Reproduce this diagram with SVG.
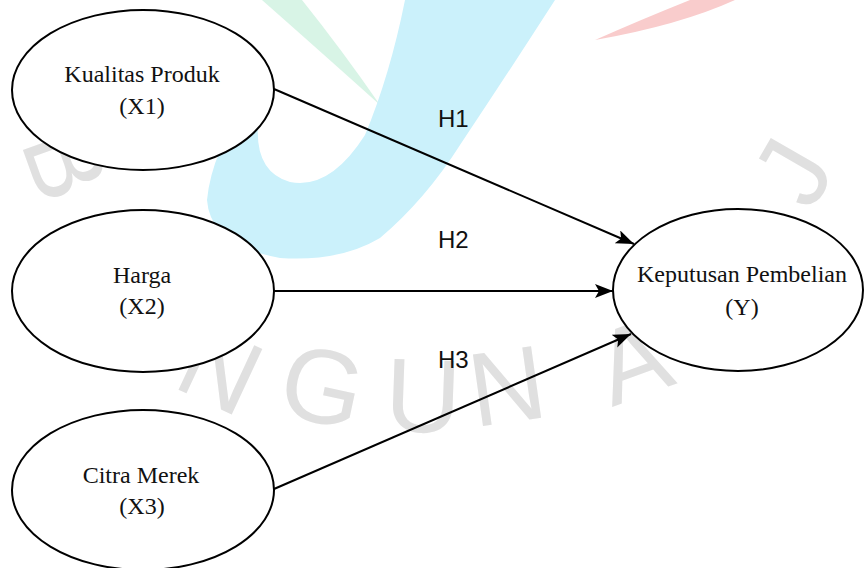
<svg xmlns="http://www.w3.org/2000/svg" width="864" height="568" viewBox="0 0 864 568">
<defs>
<style>
.node{fill:#fff;stroke:#000;stroke-width:2}
.lbl{font-family:"Liberation Serif","Times New Roman",serif;font-size:24px;fill:#111;text-anchor:middle}
.h{font-family:"Liberation Sans",Arial,sans-serif;font-size:24px;fill:#111}
.edge{stroke:#000;stroke-width:2;fill:none;marker-end:url(#arr)}
.wm{font-family:"Liberation Sans",Arial,sans-serif;font-size:105px;fill:#e0e0e0;text-anchor:middle}
</style>
<marker id="arr" markerUnits="userSpaceOnUse" markerWidth="20" markerHeight="16" refX="18" refY="7" orient="auto">
<path d="M0,0 L18,7 L0,14 L4,7 Z" fill="#000"/>
</marker>
</defs>
<g id="watermark">
<path d="M262,0 L302,0 Q342,50 380,105 Q330,60 262,0 Z" fill="#d8f4e6"/>
<path d="M690,0 L735,0 Q680,25 595,40 Q640,20 690,0 Z" fill="#f9cccc"/>
<path d="M250,100 Q212,150 207,200 Q210,245 280,258 Q340,262 380,238 Q425,200 460,145 Q510,70 555,0 L405,0 Q390,75 365,135 Q330,190 290,182 Q255,172 258,125 Z" fill="#cbf1fb"/>
<text class="wm" transform="translate(32,175) rotate(70)">B</text>
<text class="wm" transform="translate(205,402) rotate(25)">N</text>
<text class="wm" transform="translate(315,422) rotate(12)">G</text>
<text class="wm" transform="translate(422,432) rotate(2)">U</text>
<text class="wm" transform="translate(512,422) rotate(-8)">N</text>
<text class="wm" transform="translate(645,395) rotate(-20)">A</text>
<text class="wm" transform="translate(824,190) rotate(-60)">J</text>
</g>
<g id="connectors">
<line class="edge" x1="274" y1="89" x2="634" y2="244"/>
<line class="edge" x1="273" y1="291" x2="613" y2="291"/>
<line class="edge" x1="274" y1="489" x2="631" y2="334"/>
<text class="h" x="438" y="127">H1</text>
<text class="h" x="438" y="248">H2</text>
<text class="h" x="438" y="368">H3</text>
</g>
<g id="x1">
<ellipse class="node" cx="143" cy="90" rx="131" ry="80"/>
<text class="lbl" x="142" y="82">Kualitas Produk</text>
<text class="lbl" x="142" y="114">(X1)</text>
</g>
<g id="x2">
<ellipse class="node" cx="143" cy="291" rx="131" ry="81"/>
<text class="lbl" x="142" y="283">Harga</text>
<text class="lbl" x="142" y="314">(X2)</text>
</g>
<g id="x3">
<ellipse class="node" cx="143" cy="490" rx="131" ry="80"/>
<text class="lbl" x="141" y="483">Citra Merek</text>
<text class="lbl" x="142" y="514">(X3)</text>
</g>
<g id="y">
<ellipse class="node" cx="738" cy="290" rx="125" ry="81"/>
<text class="lbl" x="742" y="282">Keputusan Pembelian</text>
<text class="lbl" x="742" y="315">(Y)</text>
</g>
</svg>
